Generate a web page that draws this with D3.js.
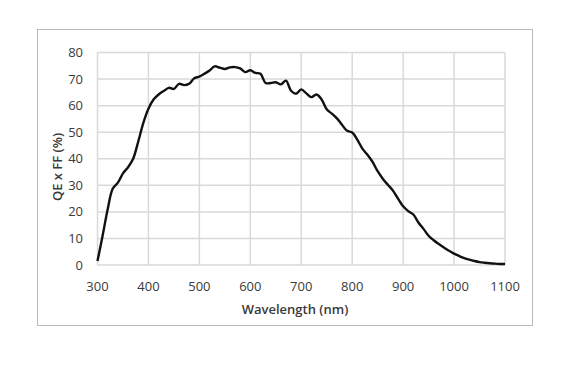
<!DOCTYPE html>
<html>
<head>
<meta charset="utf-8">
<script src="https://cdn.jsdelivr.net/npm/d3@7"></script>
<style>
  body { margin: 0; background: #fff; }
  text { font-family: "Open Sans", sans-serif; fill: #3a3a3a; }
</style>
</head>
<body>
<svg id="chart" width="577" height="392"></svg>
<script>
// wavelength (nm) and QE x FF (%)
var wavelength = [300,310,320,330,340,350,360,370,380,390,400,410,420,430,440,450,460,470,480,490,
  500,510,520,530,540,550,560,570,580,590,600,610,620,630,640,650,660,670,680,690,
  700,710,720,730,740,750,760,770,780,790,800,810,820,830,840,850,860,870,880,890,
  900,910,920,930,940,950,960,970,980,990,1000,1010,1020,1030,1040,1050,1060,1070,1080,1090,1100];
var qeff = [1.5,11,21,28.8,31,34.5,36.8,40,46.5,53.5,58.8,62.3,64.2,65.5,66.7,66.3,68.2,67.7,68.2,70.3,
  70.9,72,73.2,74.8,74.3,73.8,74.4,74.5,74,72.6,73.3,72.3,72,68.5,68.5,68.8,68,69.4,65.6,64.5,
  66.1,64.6,63.2,64.2,62.3,58.6,57,55.2,52.8,50.5,49.9,47.2,43.8,41.5,38.8,35.3,32.5,30.2,28,25,
  22.1,20.3,19,16,13.6,11,9.3,7.9,6.6,5.4,4.3,3.4,2.6,2,1.5,1.1,0.85,0.65,0.5,0.4,0.35];
var xTicks = [300,400,500,600,700,800,900,1000,1100];
var yTicks = [0,10,20,30,40,50,60,70,80];

var svg = d3.select("svg#chart");

// outer dotted frame
svg.append("rect")
    .attr("x", 37.5).attr("y", 29.5)
    .attr("width", 495).attr("height", 296)
    .attr("fill", "none")
    .attr("stroke", "#777")
    .attr("stroke-width", 1)
    .attr("stroke-dasharray", "1,1");

var x = d3.scaleLinear().domain([300, 1100]).range([97.5, 505]);
var y = d3.scaleLinear().domain([0, 80]).range([265, 52.5]);

var g = svg.append("g");

// gridlines
g.selectAll("line.h").data(yTicks).enter().append("line")
    .attr("x1", x(300)).attr("x2", x(1100))
    .attr("y1", function(d) { return y(d); })
    .attr("y2", function(d) { return y(d); })
    .attr("stroke", "#d9d9d9").attr("stroke-width", 1.5);

g.selectAll("line.v").data(xTicks).enter().append("line")
    .attr("y1", y(0)).attr("y2", y(80))
    .attr("x1", function(d) { return x(d); })
    .attr("x2", function(d) { return x(d); })
    .attr("stroke", "#d9d9d9").attr("stroke-width", 1.5);

// tick labels
g.selectAll("text.yl").data(yTicks).enter().append("text")
    .attr("x", 83)
    .attr("y", function(d) { return y(d); })
    .attr("dy", "0.35em")
    .attr("text-anchor", "end")
    .style("font-size", "13px")
    .text(function(d) { return d; });

g.selectAll("text.xl").data(xTicks).enter().append("text")
    .attr("x", function(d) { return x(d); })
    .attr("y", 286)
    .attr("dy", "0.35em")
    .attr("text-anchor", "middle")
    .style("font-size", "13px")
    .text(function(d) { return d; });

// axis titles
svg.append("text")
    .attr("x", 295).attr("y", 309)
    .attr("dy", "0.35em")
    .attr("text-anchor", "middle")
    .style("font-size", "13px").style("font-weight", 600)
    .text("Wavelength (nm)");

svg.append("text")
    .attr("transform", "translate(57,167) rotate(-90)")
    .attr("dy", "0.35em")
    .attr("text-anchor", "middle")
    .style("font-size", "13px").style("font-weight", 600)
    .text("QE x FF (%)");

// the curve
var line = d3.line()
    .x(function(d, i) { return x(wavelength[i]); })
    .y(function(d) { return y(d); })
    .curve(d3.curveCatmullRom);

g.append("path")
    .datum(qeff)
    .attr("d", line)
    .attr("fill", "none")
    .attr("stroke", "#111")
    .attr("stroke-width", 2.4)
    .attr("stroke-linejoin", "round");
</script>
</body>
</html>
